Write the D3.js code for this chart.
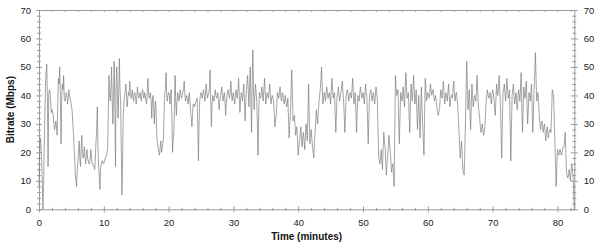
<!DOCTYPE html>
<html>
<head>
<meta charset="utf-8">
<script src="https://cdn.jsdelivr.net/npm/d3@7"></script>
<style>
  body { margin: 0; background: #fff; }
  svg { display: block; font-family: Arial, "Liberation Sans", sans-serif; }
  .axis path { stroke: #9a9a9a; }
  .axis line { stroke: #9a9a9a; }
  .axis text { fill: #222; font-size: 9.5px; }
  .title { font-size: 10px; font-weight: bold; fill: #111; }
</style>
</head>
<body>
<svg id="chart" width="600" height="245"></svg>
<script>
// samples every 0.2 min starting at 0.0 (one row = 2 minutes)
let bitrate_even = [
  8, 25, 18, 0, 20, 44, 51, 15, 42, 38,
  35, 33, 28, 31, 26, 46, 50, 23, 44, 47,
  38, 41, 37, 42, 39, 36, 31, 22, 12, 8,
  17, 24, 15, 26, 18, 22, 16, 21, 17, 16,
  21, 16, 15, 14, 24, 36, 15, 7, 16, 17,
  16, 18, 19, 22, 47, 38, 50, 30, 52, 15,
  50, 32, 53, 38, 5, 33, 40, 44, 36, 41,
  45, 39, 42, 38, 41, 37, 43, 39, 41, 38,
  42, 39, 40, 37, 46, 39, 41, 32, 40, 30,
  38, 25, 21, 19, 24, 21, 25, 40, 48, 38,
  41, 37, 42, 20, 27, 47, 33, 41, 38, 42,
  39, 41, 45, 38, 40, 37, 41, 34, 29, 37,
  36, 38, 39, 17, 38, 41, 39, 42, 38, 44,
  39, 41, 49, 29, 40, 38, 42, 39, 41, 35,
  40, 43, 38, 41, 33, 40, 42, 39, 45, 38,
  41, 37, 42, 39, 46, 34, 41, 38, 44, 31,
  42, 47, 36, 50, 27, 56, 35, 44, 38, 19,
  41, 39, 43, 38, 46, 37, 41, 39, 44, 37,
  40, 38, 29, 33, 41, 39, 43, 38, 41, 37,
  40, 36, 39, 25, 34, 49, 31, 33, 26, 29,
  19, 24, 29, 22, 27, 21, 30, 24, 44, 23,
  28, 22, 18, 27, 35, 30, 38, 42, 50, 37,
  41, 38, 43, 39, 41, 37, 46, 39, 41, 27,
  40, 43, 38, 41, 45, 38, 27, 40, 42, 38,
  41, 39, 46, 37, 41, 27, 40, 38, 43, 39,
  41, 37, 44, 39, 23, 40, 42, 38, 41, 37,
  43, 39, 19, 16, 21, 14, 27, 22, 12, 19,
  26, 20, 13, 16, 8, 47, 40, 42, 23, 41,
  38, 43, 36, 48, 39, 41, 27, 44, 38, 47,
  37, 42, 28, 40, 25, 43, 30, 19, 46, 38,
  41, 39, 44, 40, 42, 38, 40, 36, 33, 35,
  42, 39, 45, 37, 41, 38, 44, 36, 40, 39,
  45, 38, 41, 37, 28, 18, 24, 14, 12, 30,
  52, 35, 42, 28, 44, 36, 40, 38, 47, 36,
  32, 27, 30, 26, 29, 38, 42, 39, 41, 37,
  42, 39, 33, 44, 40, 47, 37, 18, 41, 44,
  38, 46, 39, 42, 17, 40, 44, 37, 41, 35,
  42, 38, 48, 27, 43, 39, 45, 30, 41, 38,
  44, 27, 42, 55, 38, 41, 33, 28, 31, 27,
  30, 24, 29, 25, 28, 27, 42, 40, 24, 8,
  21, 19, 21, 19, 21, 22, 27, 13, 11, 14,
  10, 16, 12, 0
]

// samples every 0.2 min starting at 0.1
let bitrate_odd = [
  20, 22, 10, 8, 32, 48, 38, 40, 41, 34,
  34, 30, 29, 29, 38, 44, 40, 38, 42, 39,
  39, 40, 39, 40, 38, 35, 27, 18, 10, 14,
  20, 18, 21, 20, 19, 18, 19, 18, 16, 18,
  18, 16, 15, 18, 28, 22, 12, 14, 17, 16,
  17, 18, 20, 35, 40, 42, 38, 40, 38, 44,
  40, 41, 42, 20, 18, 37, 41, 40, 39, 40,
  41, 40, 39, 41, 39, 40, 40, 40, 39, 41,
  40, 41, 38, 41, 41, 40, 38, 38, 36, 36,
  32, 23, 20, 22, 20, 23, 33, 42, 41, 40,
  40, 40, 32, 24, 36, 38, 38, 40, 40, 40,
  40, 42, 41, 39, 39, 39, 38, 32, 34, 37,
  37, 38, 30, 30, 40, 40, 41, 40, 41, 41,
  40, 43, 38, 36, 39, 40, 40, 40, 38, 38,
  41, 40, 40, 38, 37, 41, 40, 41, 41, 40,
  39, 40, 40, 42, 40, 38, 40, 41, 38, 37,
  44, 41, 43, 38, 45, 42, 40, 41, 30, 34,
  40, 41, 40, 42, 41, 39, 40, 41, 40, 39,
  39, 34, 31, 37, 40, 41, 40, 40, 39, 38,
  38, 37, 32, 30, 41, 40, 32, 30, 28, 24,
  22, 26, 25, 25, 24, 26, 27, 34, 33, 26,
  25, 20, 23, 31, 32, 34, 40, 46, 44, 39,
  40, 41, 41, 40, 39, 42, 42, 40, 34, 34,
  41, 40, 40, 43, 41, 33, 34, 41, 40, 40,
  40, 42, 41, 39, 34, 34, 39, 41, 41, 40,
  39, 41, 41, 31, 32, 41, 40, 40, 39, 40,
  41, 29, 17, 18, 17, 21, 24, 17, 16, 22,
  23, 17, 15, 12, 28, 43, 41, 32, 32, 40,
  40, 39, 42, 43, 40, 34, 36, 41, 42, 42,
  39, 35, 34, 32, 34, 36, 24, 33, 42, 40,
  40, 41, 42, 41, 40, 39, 38, 34, 34, 39,
  40, 42, 41, 39, 40, 41, 40, 38, 40, 42,
  41, 40, 39, 32, 22, 21, 19, 13, 20, 42,
  43, 38, 35, 36, 40, 38, 39, 42, 41, 34,
  29, 28, 28, 27, 33, 40, 40, 40, 39, 40,
  41, 36, 38, 42, 43, 42, 27, 30, 42, 41,
  42, 42, 40, 30, 28, 42, 40, 39, 38, 39,
  40, 43, 37, 35, 41, 42, 37, 35, 40, 41,
  35, 35, 48, 46, 40, 37, 30, 30, 29, 29,
  27, 27, 27, 27, 28, 34, 41, 32, 16, 15,
  20, 20, 20, 20, 22, 24, 20, 12, 12, 12,
  13, 14, 6
]

let step = 0.1   // minutes between merged samples

let x_major = [0, 10, 20, 30, 40, 50, 60, 70, 80]
let y_major = [0, 10, 20, 30, 40, 50, 60, 70]

let pad_l = 39, pad_r = 574.3, pad_t = 10, pad_b = 209.3

// merge the two sample rows into one trace
let bitrate = []
bitrate_even.forEach((v, i) => {
    bitrate.push(v)
    if (i < bitrate_odd.length)
        bitrate.push(bitrate_odd[i])
})

let svg = d3.select('#chart')

let x = d3.scaleLinear().domain([0, 82.6]).range([pad_l, pad_r])
let y = d3.scaleLinear().domain([0, 70]).range([pad_b, pad_t])

let x_minor = d3.range(0, 83, 2).filter(d => d % 10 !== 0)
let y_minor = d3.range(0, 71, 2).filter(d => d % 10 !== 0)

// ticks that cross the axis line: stretch the inner end past it
function cross(g, dim, len) {
    g.selectAll('.tick line').attr(dim, len)
}

// left
svg.append('g').attr('class', 'axis').attr('transform', `translate(${pad_l},0)`)
    .call(d3.axisLeft(y).tickValues(y_major).tickSize(3).tickSizeOuter(0).tickPadding(5))
    .call(g => cross(g, 'x1', 3))
svg.append('g').attr('class', 'axis').attr('transform', `translate(${pad_l},0)`)
    .call(d3.axisLeft(y).tickValues(y_minor).tickSize(2).tickFormat(''))
    .call(g => cross(g, 'x1', 2))
    .call(g => g.select('.domain').remove())

// right
svg.append('g').attr('class', 'axis').attr('transform', `translate(${pad_r},0)`)
    .call(d3.axisRight(y).tickValues(y_major).tickSize(3.5).tickSizeOuter(0).tickPadding(6))
    .call(g => cross(g, 'x1', -3.5))
svg.append('g').attr('class', 'axis').attr('transform', `translate(${pad_r},0)`)
    .call(d3.axisRight(y).tickValues(y_minor).tickSize(2).tickFormat(''))
    .call(g => cross(g, 'x1', -2))
    .call(g => g.select('.domain').remove())

// bottom
svg.append('g').attr('class', 'axis').attr('transform', `translate(0,${pad_b})`)
    .call(d3.axisBottom(x).tickValues(x_major).tickSize(3).tickSizeOuter(0).tickPadding(7))
    .call(g => cross(g, 'y1', -3))
svg.append('g').attr('class', 'axis').attr('transform', `translate(0,${pad_b})`)
    .call(d3.axisBottom(x).tickValues(x_minor).tickSize(1.5).tickFormat(''))
    .call(g => cross(g, 'y1', -1.5))
    .call(g => g.select('.domain').remove())

// top: only short ticks pointing in
svg.append('g').attr('class', 'axis').attr('transform', `translate(0,${pad_t})`)
    .call(d3.axisBottom(x).tickValues(x_major.concat(x_minor)).tickSize(2).tickSizeOuter(0).tickFormat(''))

// trace
let line = d3.line()
    .x((d, i) => x(i * step))
    .y(d => y(d))

svg.append('path')
    .datum(bitrate)
    .attr('d', line)
    .attr('fill', 'none')
    .attr('stroke', '#7c7c7c')
    .attr('stroke-width', 0.7)

// titles
svg.append('text')
    .attr('class', 'title')
    .attr('x', (pad_l + pad_r) / 2)
    .attr('y', 240)
    .attr('text-anchor', 'middle')
    .text('Time (minutes)')

svg.append('text')
    .attr('class', 'title')
    .attr('transform', `translate(14,${(pad_t + pad_b) / 2}) rotate(-90)`)
    .attr('text-anchor', 'middle')
    .text('Bitrate (Mbps)')
</script>
</body>
</html>
